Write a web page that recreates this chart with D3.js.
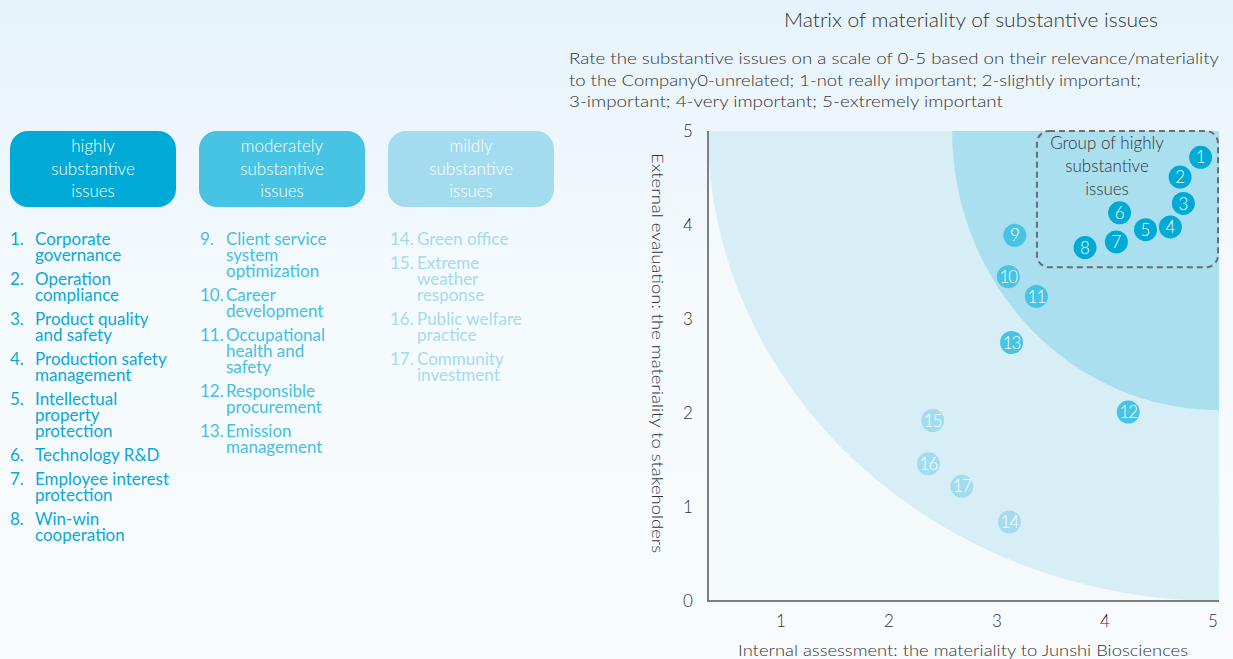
<!DOCTYPE html>
<html>
<head>
<meta charset="utf-8">
<script src="https://cdn.jsdelivr.net/npm/d3@7"></script>
<style>
  html, body { margin: 0; padding: 0; }
  body { width: 1233px; height: 659px; overflow: hidden; }
  svg { display: block; font-family: Lato, "Open Sans", sans-serif; font-weight: 300; }
</style>
</head>
<body>
<svg id="chart" width="1233" height="659"></svg>
<script>
// ---- data ----
const issueIds = [1, 2, 3, 4, 5, 6, 7, 8, 9, 10, 11, 12, 13, 14, 15, 16, 17];
// internal assessment (x) and external evaluation (y), 0-5 scale
const internalScores = [4.89, 4.70, 4.73, 4.61, 4.38, 4.14, 4.11, 3.82, 3.17, 3.11, 3.37, 4.22, 3.14, 3.12, 2.41, 2.37, 2.68];
const externalScores = [4.72, 4.51, 4.23, 3.98, 3.95, 4.13, 3.82, 3.76, 3.89, 3.45, 3.24, 2.01, 2.75, 0.84, 1.92, 1.46, 1.22];
// 0 = highly, 1 = moderately, 2 = mildly substantive
const issueTiers = [0, 0, 0, 0, 0, 0, 0, 0, 1, 1, 1, 1, 1, 2, 2, 2, 2];
const issueNames = [
  ["Corporate", "governance"],
  ["Operation", "compliance"],
  ["Product quality", "and safety"],
  ["Production safety", "management"],
  ["Intellectual", "property", "protection"],
  ["Technology R&D"],
  ["Employee interest", "protection"],
  ["Win-win", "cooperation"],
  ["Client service", "system", "optimization"],
  ["Career", "development"],
  ["Occupational", "health and", "safety"],
  ["Responsible", "procurement"],
  ["Emission", "management"],
  ["Green office"],
  ["Extreme", "weather", "response"],
  ["Public welfare", "practice"],
  ["Community", "investment"]
];
const tierNames = [
  ["highly", "substantive", "issues"],
  ["moderately", "substantive", "issues"],
  ["mildly", "substantive", "issues"]
];
const xTicks = [1, 2, 3, 4, 5];
const yTicks = [0, 1, 2, 3, 4, 5];
const xDomain = [0.33, 5.06];
const yDomain = [0, 5];
// zone boundaries (where each curved band meets the left/top and bottom/right edges)
const zoneEdgesX = [0.33, 2.59];
const zoneEdgesY = [0, 2.03];
const highlightGroup = { x0: 3.375, x1: 5.06, y0: 3.55, y1: 5 };

const titleText = "Matrix of materiality of substantive issues";
const subtitleLines = [
  "Rate the substantive issues on a scale of 0-5 based on their relevance/materiality",
  "to the Company0-unrelated; 1-not really important; 2-slightly important;",
  "3-important; 4-very important; 5-extremely important"
];
const xAxisTitle = "Internal assessment: the materiality to Junshi Biosciences";
const yAxisTitle = "External evaluation: the materiality to stakeholders";
const groupLabel = ["Group of highly", "substantive", "issues"];

// ---- styles ----
const tierFill = ["#00aad6", "#47c3e3", "#a3dcef"];
const tierText = ["#0ba8d5", "#45c0e1", "#a4dbee"];
const zoneFill = ["#d7eef7", "#aadff0"];

const svg = d3.select("#chart");

// page background
const defs = svg.append("defs");
const bg = defs.append("linearGradient").attr("id", "pageBg")
  .attr("x1", 0).attr("y1", 0).attr("x2", 0).attr("y2", 1);
bg.append("stop").attr("offset", "0%").attr("stop-color", "#e6f3fa");
bg.append("stop").attr("offset", "45%").attr("stop-color", "#f5fafd");
bg.append("stop").attr("offset", "100%").attr("stop-color", "#f8fbfd");
svg.append("rect").attr("width", 1233).attr("height", 659).attr("fill", "url(#pageBg)");

// ---- titles ----
svg.append("text").attr("x", 971).attr("y", 27).attr("text-anchor", "middle")
  .attr("font-size", 19).attr("fill", "#333").text(titleText)
  .attr("textLength", 374).attr("lengthAdjust", "spacingAndGlyphs");

const subWidths = [650, 572, 434];
svg.append("g").selectAll("text").data(subtitleLines).join("text")
  .attr("x", 569).attr("y", (d, i) => 64 + i * 21.5)
  .attr("font-size", 16.5).attr("fill", "#333")
  .attr("textLength", (d, i) => subWidths[i]).attr("lengthAdjust", "spacingAndGlyphs")
  .text(d => d);

// ---- plot ----
const x = d3.scaleLinear().domain(xDomain).range([708, 1219]);
const y = d3.scaleLinear().domain(yDomain).range([601, 131]);

const plot = svg.append("g");
defs.append("clipPath").attr("id", "plotClip").append("rect")
  .attr("x", x(xDomain[0])).attr("y", y(yDomain[1]))
  .attr("width", x(xDomain[1]) - x(xDomain[0])).attr("height", y(yDomain[0]) - y(yDomain[1]));

plot.append("rect")
  .attr("x", x(xDomain[0])).attr("y", y(yDomain[1]))
  .attr("width", x(xDomain[1]) - x(xDomain[0])).attr("height", y(yDomain[0]) - y(yDomain[1]))
  .attr("fill", "#f4f9fc");

// curved zones: quarter ellipses anchored at the top-right corner
const zones = plot.append("g").attr("clip-path", "url(#plotClip)");
zoneEdgesX.forEach((xe, i) => {
  const cx = x(xDomain[1]), cy = y(yDomain[1]);
  const rx = cx - x(xe), ry = y(zoneEdgesY[i]) - cy;
  zones.append("ellipse").attr("cx", cx).attr("cy", cy)
    .attr("rx", rx).attr("ry", ry).attr("fill", zoneFill[i]);
});

// axes (labels only, plus left/bottom lines)
const xAxis = d3.axisBottom(x).tickValues(xTicks).tickSize(0).tickPadding(14).tickFormat(d3.format("d"));
const yAxis = d3.axisLeft(y).tickValues(yTicks).tickSize(0).tickPadding(15).tickFormat(d3.format("d"));
const gx = plot.append("g").attr("transform", `translate(0,${y(0)})`).call(xAxis);
const gy = plot.append("g").attr("transform", `translate(${x(xDomain[0])},0)`).call(yAxis);
[gx, gy].forEach(g => {
  g.select(".domain").remove();
  g.selectAll("text").attr("font-size", 17).attr("fill", "#333")
    .attr("font-family", "Lato, sans-serif").attr("font-weight", 300);
});
gy.selectAll("text").attr("text-anchor", "middle").attr("dx", "-0.3em");

plot.append("path")
  .attr("d", d3.line()([[x(xDomain[0]), y(yDomain[1])], [x(xDomain[0]), y(0)], [x(xDomain[1]), y(0)]]))
  .attr("fill", "none").attr("stroke", "#7d7f82").attr("stroke-width", 2);

// axis titles
svg.append("text").attr("x", 963).attr("y", 656).attr("text-anchor", "middle")
  .attr("font-size", 16.5).attr("fill", "#333").text(xAxisTitle)
  .attr("textLength", 450).attr("lengthAdjust", "spacingAndGlyphs");
svg.append("text").attr("transform", "translate(652,353) rotate(90)").attr("text-anchor", "middle")
  .attr("font-size", 16.5).attr("fill", "#333").text(yAxisTitle)
  .attr("textLength", 400).attr("lengthAdjust", "spacingAndGlyphs");

// highlighted group box
plot.append("rect")
  .attr("x", x(highlightGroup.x0)).attr("y", y(highlightGroup.y1))
  .attr("width", x(highlightGroup.x1) - x(highlightGroup.x0) - 1)
  .attr("height", y(highlightGroup.y0) - y(highlightGroup.y1))
  .attr("rx", 12).attr("fill", "none")
  .attr("stroke", "#6b6d70").attr("stroke-width", 2).attr("stroke-dasharray", "6,4");
plot.append("g").selectAll("text").data(groupLabel).join("text")
  .attr("x", 1107).attr("y", (d, i) => 149 + i * 23)
  .attr("text-anchor", "middle").attr("font-size", 17).attr("fill", "#333")
  .text(d => d);

// issue points
const pts = plot.append("g").selectAll("g").data(issueIds).join("g")
  .attr("transform", (d, i) => `translate(${x(internalScores[i])},${y(externalScores[i])})`);
pts.append("circle").attr("r", 11.5).attr("fill", (d, i) => tierFill[issueTiers[i]]);
pts.append("text").attr("text-anchor", "middle").attr("dy", "0.36em")
  .attr("font-size", 17).attr("fill", "#fff")
  .attr("letter-spacing", d => d >= 10 ? -1 : 0)
  .text(d => d);

// ---- tier legend boxes ----
const boxX = [10, 199, 388];
const legend = svg.append("g").selectAll("g").data(tierNames).join("g")
  .attr("transform", (d, i) => `translate(${boxX[i]},131)`);
legend.append("rect").attr("width", 166).attr("height", 76).attr("rx", 18)
  .attr("fill", (d, i) => tierFill[i]);
legend.append("g").selectAll("text").data(d => d).join("text")
  .attr("x", 83).attr("y", (d, i) => 21 + i * 22.5)
  .attr("text-anchor", "middle").attr("font-size", 17).attr("fill", "#fff")
  .text(d => d);

// ---- issue lists ----
const colNumX = [10, 200, 390];
const colTextX = [35, 226, 417];
const lineH = 16, itemGap = 8;
const colY = [0, 0, 0];
issueIds.forEach((id, i) => {
  const t = issueTiers[i];
  const top = 245 + colY[t];
  const g = svg.append("g").attr("fill", tierText[t]).attr("font-size", 17).attr("font-weight", 400);
  g.append("text").attr("x", colNumX[t]).attr("y", top).text(id + ".");
  g.append("text").selectAll("tspan").data(issueNames[i]).join("tspan")
    .attr("x", colTextX[t]).attr("y", (d, k) => top + k * lineH)
    .text(d => d);
  colY[t] += issueNames[i].length * lineH + itemGap;
});
</script>
</body>
</html>
